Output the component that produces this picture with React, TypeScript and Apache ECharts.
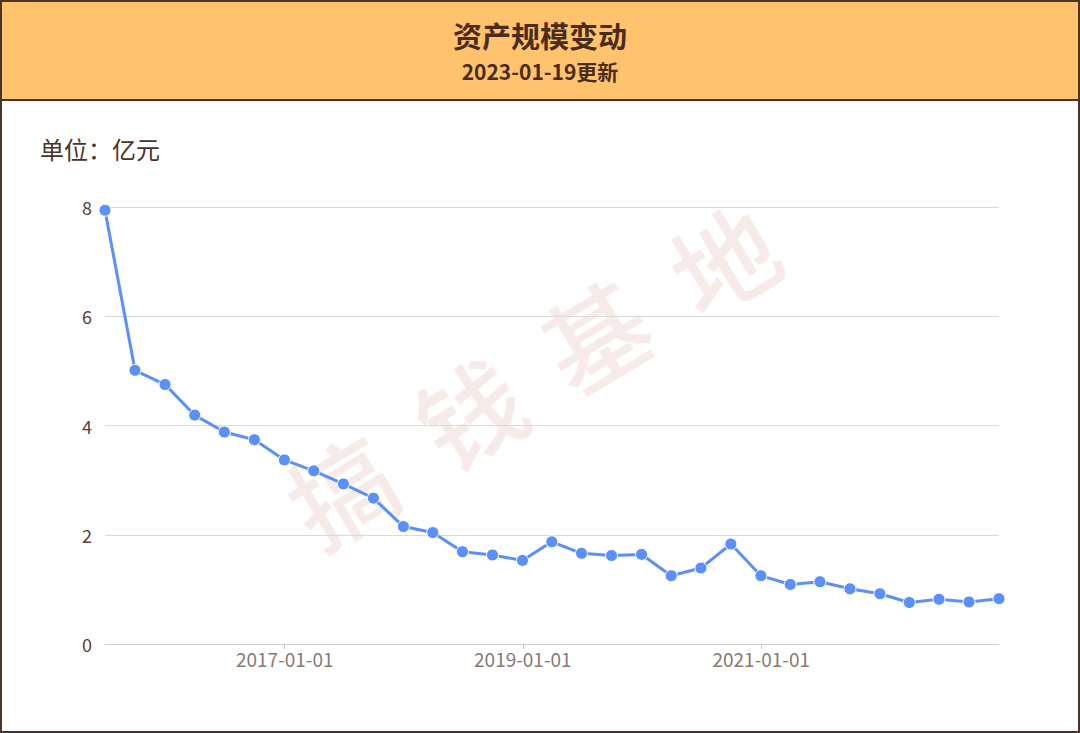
import React, { useEffect, useRef } from "react";
import * as echarts from "echarts";

const dates = [
  "2015-06-30", "2015-09-30", "2015-12-31",
  "2016-03-31", "2016-06-30", "2016-09-30", "2016-12-31",
  "2017-03-31", "2017-06-30", "2017-09-30", "2017-12-31",
  "2018-03-31", "2018-06-30", "2018-09-30", "2018-12-31",
  "2019-03-31", "2019-06-30", "2019-09-30", "2019-12-31",
  "2020-03-31", "2020-06-30", "2020-09-30", "2020-12-31",
  "2021-03-31", "2021-06-30", "2021-09-30", "2021-12-31",
  "2022-03-31", "2022-06-30", "2022-09-30", "2022-12-31",
];
const assets = [
  7.94, 5.01, 4.75,
  4.19, 3.88, 3.74, 3.37,
  3.17, 2.93, 2.67, 2.15,
  2.04, 1.69, 1.63, 1.53,
  1.87, 1.66, 1.62, 1.64,
  1.25, 1.39, 1.83, 1.25,
  1.09, 1.14, 1.01, 0.92,
  0.76, 0.82, 0.77, 0.83,
];
const xTickLabels = ["2017-01-01", "2019-01-01", "2021-01-01"];
const yTicks = [0, 2, 4, 6, 8];
const watermarkChars = ["搞", "钱", "基", "地"];
const titleText = "资产规模变动";
const subtitleText = "2023-01-19更新";
const unitText = "单位：亿元";

const toTs = (s: string) => {
  const [y, m, d] = s.split("-").map(Number);
  return Date.UTC(y, m - 1, d);
};
const pad = (n: number) => (n < 10 ? "0" + n : "" + n);
const fmt = (t: number) => {
  const d = new Date(t);
  return `${d.getUTCFullYear()}-${pad(d.getUTCMonth() + 1)}-${pad(d.getUTCDate())}`;
};

export default function App() {
  const ref = useRef<HTMLDivElement>(null);
  useEffect(() => {
    if (!ref.current) return;
    const chart = echarts.init(ref.current, null, { renderer: "svg" });
    const font = '"Noto Sans CJK SC", "Noto Sans", sans-serif';
    const wmPos = [
      [340, 488],
      [468, 410],
      [594, 333],
      [722, 257],
    ];
    const rot = (31 * Math.PI) / 180;
    chart.setOption({
      animation: false,
      backgroundColor: "#ffffff",
      textStyle: { fontFamily: font },
      title: [
        {
          text: titleText,
          left: "center",
          top: 15,
          textStyle: { fontSize: 29, fontWeight: "bold", color: "#4a2c1c", fontFamily: font },
        },
        {
          text: subtitleText,
          left: "center",
          top: 55,
          textStyle: { fontSize: 21, fontWeight: "bold", color: "#4a2c1c", fontFamily: font },
        },
        {
          text: unitText,
          left: 35,
          top: 131,
          textStyle: { fontSize: 24, fontWeight: "normal", color: "#4a3228", fontFamily: font },
        },
      ],
      graphic: [
        {
          type: "rect",
          z: -10,
          shape: { x: 1, y: 1, width: 1078, height: 731 },
          style: { fill: "#ffffff", stroke: "#4a3428", lineWidth: 2 },
          silent: true,
        },
        {
          type: "rect",
          z: -9,
          shape: { x: 1, y: 1, width: 1078, height: 99 },
          style: { fill: "#FFC36E", stroke: "#4a3428", lineWidth: 2 },
          silent: true,
        },
        ...watermarkChars.map((c, i) => ({
          type: "text",
          z: -5,
          x: wmPos[i][0],
          y: wmPos[i][1],
          rotation: rot,
          silent: true,
          style: {
            text: c,
            fill: "#f6ebe8",
            font: `500 104px ${font}`,
            align: "center",
            verticalAlign: "middle",
          },
        })),
      ],
      grid: { left: 105, right: 81, top: 207, bottom: 89, containLabel: false },
      xAxis: {
        type: "value",
        min: toTs(dates[0]),
        max: toTs(dates[dates.length - 1]),
        axisLine: { show: true, lineStyle: { color: "#cccccc", width: 1 } },
        axisTick: {
          show: true,
          length: 5,
          lineStyle: { color: "#cccccc" },
          customValues: xTickLabels.map(toTs),
        },
        axisLabel: {
          color: "#8a7a74",
          fontSize: 19,
          margin: 5,
          customValues: xTickLabels.map(toTs),
          formatter: (v: number) => fmt(v),
        },
        splitLine: { show: false },
      },
      yAxis: {
        type: "value",
        min: yTicks[0],
        max: yTicks[yTicks.length - 1],
        interval: 2,
        axisLine: { show: false },
        axisTick: { show: false },
        axisLabel: { color: "#5a4038", fontSize: 18, margin: 13 },
        splitLine: { show: true, lineStyle: { color: "#d9d9d9", width: 1 } },
      },
      series: [
        {
          type: "line",
          data: dates.map((d, i) => [toTs(d), assets[i]]),
          symbol: "circle",
          symbolSize: 12,
          showSymbol: true,
          lineStyle: { color: "#5B8FF9", width: 3 },
          itemStyle: { color: "#5B8FF9", borderColor: "#ffffff", borderWidth: 1 },
          z: 3,
        },
      ],
    });
    return () => chart.dispose();
  }, []);
  return (
    <div
      ref={ref}
      style={{ position: "fixed", left: 0, top: 0, width: 1080, height: 733 }}
    />
  );
}
